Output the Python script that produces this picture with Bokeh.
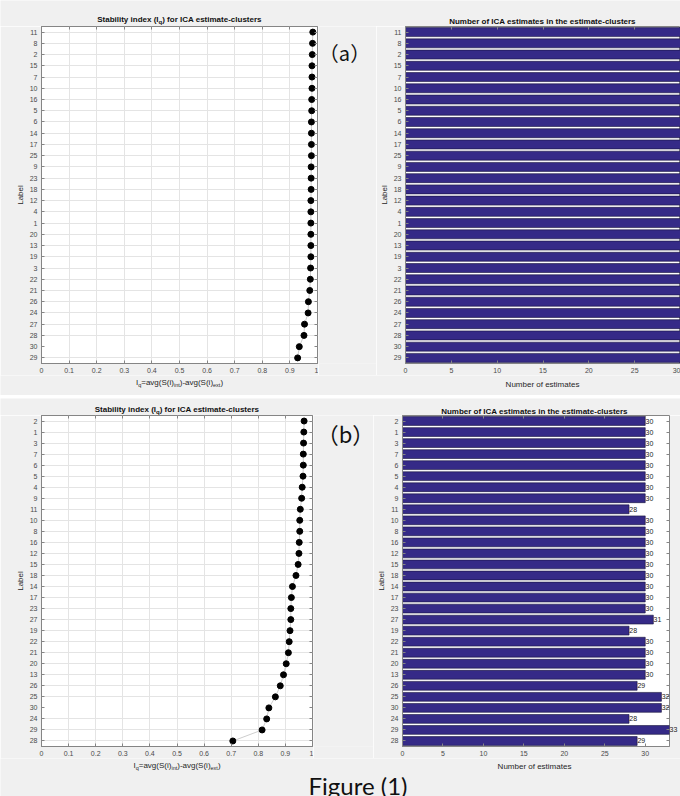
from bokeh.plotting import figure
from bokeh.models import (FactorRange, Range1d, LabelSet, CategoricalAxis, LinearAxis,
                          FixedTicker, NumeralTickFormatter, CustomJSTickFormatter, ColumnDataSource)
from bokeh.layouts import row, column
from bokeh.embed import file_html
from bokeh.resources import INLINE
from bokeh.core.properties import value

# ---------------- data ----------------
a_labels = ["11", "8", "2", "15", "7", "10", "16", "5", "6", "14", "17", "25", "9", "23", "18",
            "12", "4", "1", "20", "13", "19", "3", "22", "21", "26", "24", "27", "28", "30", "29"]
a_stability = [0.983, 0.982, 0.981, 0.980, 0.980, 0.980, 0.979, 0.979, 0.978, 0.978, 0.978, 0.978,
               0.977, 0.977, 0.977, 0.976, 0.976, 0.976, 0.976, 0.976, 0.976, 0.975, 0.974, 0.972,
               0.967, 0.966, 0.953, 0.951, 0.934, 0.928]
a_counts = [30, 30, 30, 30, 30, 30, 30, 30, 30, 30, 30, 30, 30, 30, 30,
            30, 30, 30, 30, 30, 30, 30, 30, 30, 30, 30, 30, 30, 30, 30]

b_labels = ["2", "1", "3", "7", "6", "5", "4", "9", "11", "10", "8", "16", "12", "15", "18",
            "14", "17", "23", "27", "19", "22", "21", "20", "13", "26", "25", "30", "24", "29", "28"]
b_stability = [0.969, 0.968, 0.967, 0.966, 0.966, 0.965, 0.962, 0.960, 0.955, 0.953, 0.953, 0.951,
               0.950, 0.947, 0.939, 0.926, 0.922, 0.920, 0.920, 0.917, 0.914, 0.911, 0.903, 0.893,
               0.881, 0.863, 0.839, 0.831, 0.814, 0.706]
b_counts = [30, 30, 30, 30, 30, 30, 30, 30, 28, 30, 30, 30, 30, 30, 30,
            30, 30, 30, 31, 28, 30, 30, 30, 30, 29, 32, 32, 28, 33, 29]

stab_ticks = [0, 0.1, 0.2, 0.3, 0.4, 0.5, 0.6, 0.7, 0.8, 0.9, 1]
count_ticks = [0, 5, 10, 15, 20, 25, 30]

title_stab = [("Stability index (I", False), ("q", True), (") for ICA estimate-clusters", False)]
title_count = "Number of ICA estimates in the estimate-clusters"
xlabel_stab = [("I", False), ("q", True), ("=avg(S(i)", False), ("int", True),
               (")-avg(S(i)", False), ("ext", True), (")", False)]
xlabel_count = "Number of estimates"
ylabel = "Label"
tag_a = "（a）"
tag_b = "（b）"
caption = "Figure (1)"

# ---------------- style ----------------
BG = "#f0f0f0"
AXC = "#858585"
TICKC = "#4a4a4a"
LABC = "#262626"
TITC = "#111111"
BAR = "#352a87"
FONT = "Liberation Sans"

AR = {'I': 278, 'q': 556, '=': 584, 'a': 556, 'v': 500, 'g': 556, '(': 333, 'S': 667, 'i': 222,
      ')': 333, 'n': 556, 't': 278, 'e': 556, 'x': 500, '-': 333, ' ': 278}
ARB = {'S': 667, 't': 333, 'a': 556, 'b': 611, 'i': 278, 'l': 278, 'y': 556, ' ': 278, 'n': 611,
       'd': 611, 'e': 556, 'x': 556, '(': 333, 'I': 278, 'q': 611, ')': 333, 'f': 333, 'o': 611,
       'r': 389, 'C': 722, 'A': 722, 's': 556, 'm': 889, '-': 333, 'c': 556, 'u': 611}


def tw(s, size, bold=False):
    t = ARB if bold else AR
    return sum(t.get(c, 556) for c in s) * size / 1000.0


# ---------------- helpers ----------------
def style_axis(ax):
    ax.axis_line_color = AXC
    ax.major_tick_line_color = AXC
    ax.major_tick_in = 3
    ax.major_tick_out = 0
    ax.minor_tick_line_color = None
    ax.major_label_text_font = FONT
    ax.major_label_text_font_size = "7px"
    ax.major_label_text_color = TICKC
    ax.major_label_standoff = 4


def mirror(p, side, ticker=None, formatter=None, font_size="0px"):
    fmt = formatter if formatter is not None else CustomJSTickFormatter(code="return ''")
    if ticker is None:
        ax = CategoricalAxis(formatter=fmt)
    else:
        ax = LinearAxis(ticker=ticker, formatter=fmt)
    ax.axis_line_color = None
    ax.major_tick_in = 3
    ax.major_tick_out = 0
    ax.major_tick_line_color = AXC
    ax.minor_tick_line_color = None
    ax.major_label_standoff = 0
    ax.major_label_text_font = FONT
    ax.major_label_text_font_size = font_size
    ax.major_label_text_color = "#222222"
    p.add_layout(ax, side)


def make_fig(w, h, bl, br, bt, bb, x_range, factors):
    p = figure(width=w, height=h, x_range=x_range,
               y_range=FactorRange(factors=factors, range_padding=0),
               output_backend="svg", toolbar_location=None,
               min_border_left=bl, min_border_right=br, min_border_top=bt, min_border_bottom=bb,
               background_fill_color="white", border_fill_color=BG,
               outline_line_color=AXC)
    style_axis(p.xaxis[0])
    style_axis(p.yaxis[0])
    p.yaxis.axis_label = ylabel
    p.yaxis.axis_label_text_font = FONT
    p.yaxis.axis_label_text_font_size = "8px"
    p.yaxis.axis_label_text_font_style = "normal"
    p.yaxis.axis_label_text_color = LABC
    p.yaxis.axis_label_standoff = 2
    return p


def band(w, h):
    p = figure(width=w, height=h, x_range=Range1d(0, w), y_range=Range1d(h, 0),
               output_backend="svg", toolbar_location=None, min_border=0,
               x_axis_type=None, y_axis_type=None,
               background_fill_color=BG, border_fill_color=BG, outline_line_color=None)
    return p


def btext(p, org, px, py, text, size, bold=False, align="left", font=FONT, color=LABC):
    p.text(x=[px - org[0]], y=[py - org[1]], text=[text], text_font=value(font),
           text_font_size=f"{size}px", text_font_style="bold" if bold else "normal",
           text_align=align, text_baseline="alphabetic", text_color=color)


def rich(p, org, center, base, pieces, size, subsize, bold, color, drop=2.6):
    total = sum(tw(t, subsize if s else size, bold) for t, s in pieces)
    x = center - total / 2.0
    for t, s in pieces:
        sz = subsize if s else size
        btext(p, org, x, base + (drop if s else 0), t, sz, bold=bold, color=color)
        x += tw(t, sz, bold)


def dot_chart(w, h, bl, br, bt, bb, labels, vals):
    p = make_fig(w, h, bl, br, bt, bb, Range1d(0, 1), labels[::-1])
    src = ColumnDataSource(dict(lab=labels, v=vals))
    p.line(x="v", y="lab", source=src, line_color="#b8b8b8", line_width=0.7)
    p.scatter(x="v", y="lab", source=src, size=6, fill_color="black", line_color="black")
    p.xaxis[0].ticker = FixedTicker(ticks=stab_ticks)
    p.xaxis[0].formatter = NumeralTickFormatter(format="0.[0]")
    p.xgrid[0].ticker = FixedTicker(ticks=stab_ticks)
    p.xgrid.grid_line_color = "#e4e4e4"
    p.ygrid.grid_line_color = "#e4e4e4"
    mirror(p, "above", FixedTicker(ticks=stab_ticks))
    mirror(p, "right")
    return p


def bar_chart(w, h, bl, br, bt, bb, labels, counts, xmax, show_values, right_mirror):
    p = make_fig(w, h, bl, br, bt, bb, Range1d(0, xmax), labels[::-1])
    src = ColumnDataSource(dict(lab=labels, c=counts))
    p.hbar(y="lab", left=0, right="c", height=0.8, source=src,
           fill_color=BAR, line_color="#15123a", line_width=0.6)
    p.xaxis[0].ticker = FixedTicker(ticks=count_ticks)
    p.xgrid.grid_line_color = None
    p.ygrid.grid_line_color = None
    mirror(p, "above", FixedTicker(ticks=count_ticks))
    if show_values:
        inner = [(l, c) for l, c in zip(labels, counts) if c < xmax]
        vsrc = ColumnDataSource(dict(lab=[l for l, c in inner], c=[c for l, c in inner],
                                     t=[str(c) for l, c in inner]))
        p.add_layout(LabelSet(x="c", y="lab", text="t", source=vsrc, x_offset=0.3,
                              text_font=value(FONT), text_font_size="7px",
                              text_baseline="middle", text_align="left", text_color="#222222"))
        # values that reach the right edge are written just outside the frame
        edge_fmt = CustomJSTickFormatter(
            args=dict(labs=labels, cnts=counts, xmax=xmax),
            code="const i = labs.indexOf(tick); return (i >= 0 && cnts[i] >= xmax) ? String(cnts[i]) : '';")
        mirror(p, "right", formatter=edge_fmt, font_size="7px")
    elif right_mirror:
        mirror(p, "right")
    return p


# ---------------- (a) ----------------
W = 680
tband_a = band(W, 26)                       # y 0..26
org = (0, 0)
rich(tband_a, org, 179, 18.6, title_stab, 8, 6, True, TITC, drop=2.4)
btext(tband_a, org, 542, 21.3, title_count, 8, bold=True, align="center", color=TITC)

a_left = dot_chart(318, 349, 41, 1, 0, 12, a_labels, a_stability)          # x 0..318, y 26..375
mid_a = band(58, 349)                                                     # x 318..376
btext(mid_a, (318, 26), 344, 53, tag_a, 20, align="center", font="Noto Sans CJK SC", color=TITC)
a_right = bar_chart(304, 349, 28, 0, 0, 12, a_labels, a_counts, 30, False, False)  # x 376..680

xband_a = band(W, 20)                       # y 375..395
org = (0, 375)
rich(xband_a, org, 179, 382.4, xlabel_stab, 8, 5.5, False, LABC, drop=2.5)
btext(xband_a, org, 542, 383.6, xlabel_count, 8, align="center")

# ---------------- separator ----------------
sep = figure(width=W, height=3, output_backend="svg", toolbar_location=None,
             x_axis_type=None, y_axis_type=None, min_border=0,
             background_fill_color="black", border_fill_color="black", outline_line_color=None)

# ---------------- (b) ----------------
tband_b = band(W, 17)                       # y 398..415
org = (0, 398)
rich(tband_b, org, 176.5, 409.2, title_stab, 8, 6, True, TITC, drop=2.3)
btext(tband_b, org, 534, 410.8, title_count, 8, bold=True, align="center", color=TITC)

b_left = dot_chart(313, 343, 41, 1, 0, 12, b_labels, b_stability)          # x 0..313, y 415..758
mid_b = band(60, 343)                                                     # x 313..373
btext(mid_b, (313, 415), 345, 433, tag_b, 22, align="center", font="Noto Sans CJK SC", color=TITC)
b_right = bar_chart(307, 343, 25, 10, 0, 12, b_labels, b_counts, 33, True, True)   # x 373..680

bband = band(W, 38)                         # y 758..796
org = (0, 758)
rich(bband, org, 176.5, 765.2, xlabel_stab, 8, 5.5, False, LABC, drop=2.5)
btext(bband, org, 534, 766.3, xlabel_count, 8, align="center")
btext(bband, org, 357.5, 784.5, caption, 24, align="center", font="Lato", color=TITC)

layout = column(tband_a, row(a_left, mid_a, a_right), xband_a, sep,
                tband_b, row(b_left, mid_b, b_right), bband)

with open("out.html", "w") as f:
    f.write(file_html(layout, INLINE))
